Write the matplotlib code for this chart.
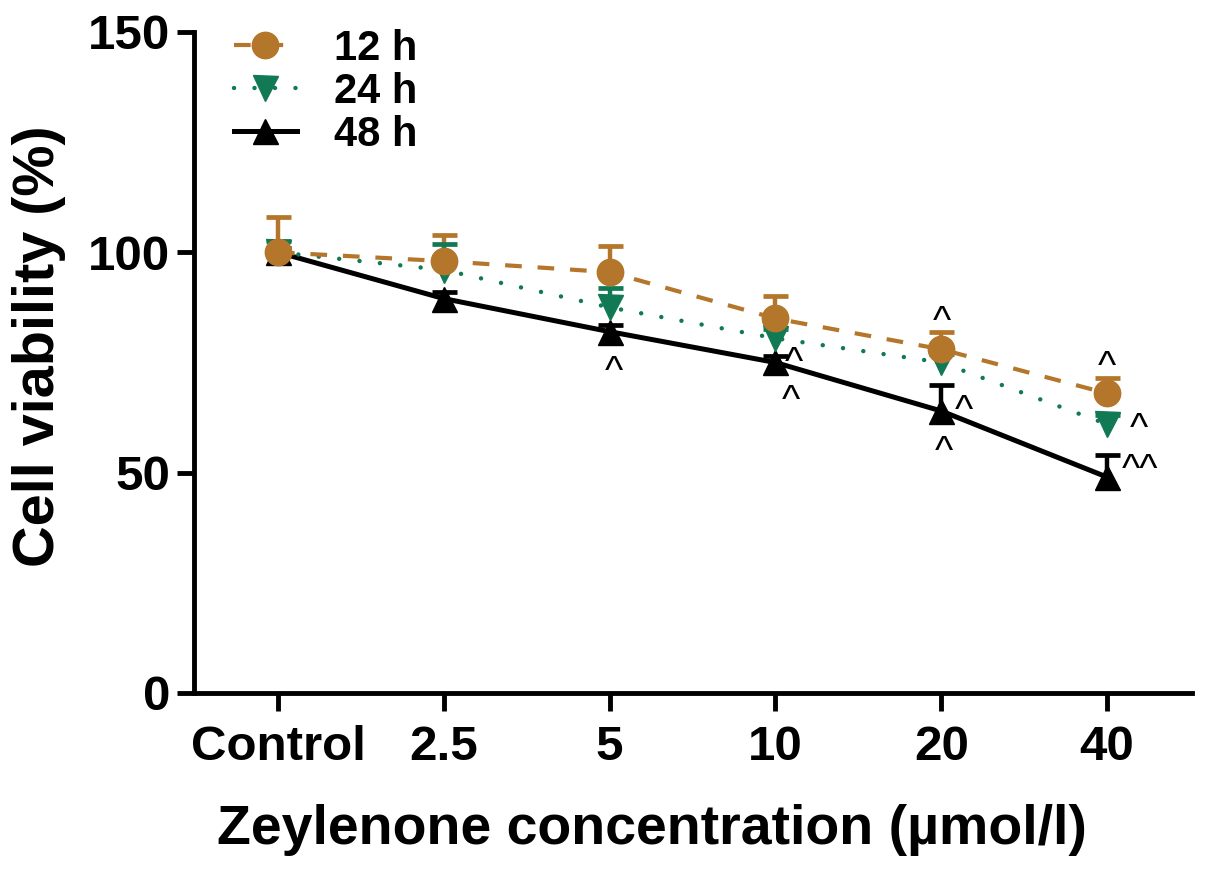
import matplotlib
matplotlib.use("Agg")
import matplotlib.pyplot as plt
from matplotlib.lines import Line2D
import numpy as np

plt.rcParams['font.family'] = ['Liberation Sans', 'DejaVu Sans']

categories = ['Control', '2.5', '5', '10', '20', '40']
v12 = [100, 98, 95.5, 85, 78, 68]
e12 = [8, 6, 6, 5, 4, 3.5]
v24 = [100, 96, 87.5, 80.5, 75, 61]
e24 = [2.5, 6, 4.5, 2, 2, 2]
v48 = [100, 89.5, 82, 75, 64, 49]
e48 = [1, 1.5, 1.5, 1.5, 6, 5]
series_labels = ['12 h', '24 h', '48 h']
yticks = [0, 50, 100, 150]

# significance marks: (series index, category index, dx px, dy px (down+), text)
marks = [
    (2, 2, 4, 32, '^'),
    (1, 3, 19, 16, '^'),
    (2, 3, 16, 30, '^'),
    (0, 4, 1, -36, '^'),
    (2, 4, 23, -9, '^'),
    (2, 4, 3, 32, '^'),
    (0, 5, 0, -35, '^'),
    (1, 5, 32, -4, '^'),
    (2, 5, 33, -16, '^^'),
]

W, H = 1205, 874
fig = plt.figure(figsize=(W / 100, H / 100), dpi=100)
ax_l, ax_r, ax_t, ax_b = 194, 1192, 32, 693
ax = fig.add_axes([ax_l / W, 1 - ax_b / H, (ax_r - ax_l) / W, (ax_b - ax_t) / H])

x = np.arange(len(categories))
orange = '#B3762A'
green = '#117A55'
black = '#000000'

vals = [np.array(v12), np.array(v24), np.array(v48)]
errs = [np.array(e12), np.array(e24), np.array(e48)]
colors = [orange, green, black]
markers = ['o', 'v', '^']
msizes = [19, 18, 18]
lws = [3.0, 3.2, 3.6]

for i in range(3):
    ax.vlines(x, vals[i], vals[i] + errs[i], color=colors[i], lw=3.2, zorder=2 + 0.1 * i)
    ax.plot(x, vals[i] + errs[i], ls='none', marker='_', ms=18, mew=3.4,
            color=colors[i], zorder=2 + 0.1 * i)

# lines
l12, = ax.plot(x, vals[0], color=orange, lw=lws[0], zorder=3.2)
l12.set_dashes((4, 3.8))
l12.set_dash_capstyle('butt')
l24, = ax.plot(x, vals[1], color=green, lw=lws[1], zorder=3.1)
l24.set_dashes((0.01, 4.6))
l24.set_dash_capstyle('round')
l48, = ax.plot(x, vals[2], color=black, lw=lws[2], zorder=3.0)

for i in [2, 1, 0]:
    ax.plot(x, vals[i], ls='none', marker=markers[i], ms=msizes[i], color=colors[i],
            mec=colors[i], zorder=4 + 0.1 * (2 - i))

fs_mark = 28
base_off = 0.51 * fs_mark / 0.72
for si, ci, dx, dy, s in marks:
    ax.annotate(s, xy=(x[ci], vals[si][ci]), xytext=(dx * 0.72, -(dy + base_off) * 0.72),
                textcoords='offset points', ha='center', va='baseline', fontsize=fs_mark,
                color='black')

spacing = (1107 - 278) / 5
ax.set_xlim((ax_l - 278) / spacing, (ax_r - 278) / spacing)
ax.set_ylim(0, 150)
ax.set_xticks(x)
ax.set_xticklabels(categories)
ax.set_yticks(yticks)
ax.set_yticklabels([str(t) for t in yticks])
for s in ['top', 'right']:
    ax.spines[s].set_visible(False)
for s in ['left', 'bottom']:
    ax.spines[s].set_linewidth(3.5)
    ax.spines[s].set_capstyle('projecting')
ax.tick_params(axis='x', length=13, width=3.5, pad=10, labelsize=35.5)
ax.tick_params(axis='y', length=12, width=3.5, pad=5, labelsize=35.5)
for lab in ax.get_xticklabels() + ax.get_yticklabels():
    lab.set_fontweight('bold')

# legend
h12 = Line2D([], [], color=orange, lw=lws[0], marker='o', ms=19, dashes=(4, 3.8))
h24 = Line2D([], [], color=green, lw=lws[1], marker='v', ms=18, dashes=(0.01, 4.6),
             dash_capstyle='round')
h48 = Line2D([], [], color=black, lw=lws[2], marker='^', ms=18)
leg = ax.legend([h12, h24, h48], series_labels, loc='upper left',
                bbox_to_anchor=(234 / W, 1 - 29 / H), bbox_transform=fig.transFigure,
                frameon=False, handlelength=1.5, handletextpad=0.9,
                labelspacing=0.07, borderpad=0, borderaxespad=0,
                prop={'weight': 'bold', 'size': 30})

fig.text(652 / W, 1 - 830 / H, 'Zeylenone concentration (µmol/l)', ha='center', va='center',
         fontsize=40, fontweight='bold')
fig.text(39 / W, 1 - 346 / H, 'Cell viability (%)', ha='center', va='center', rotation=90,
         fontsize=41.5, fontweight='bold')

fig.savefig('out.png', dpi=100)
